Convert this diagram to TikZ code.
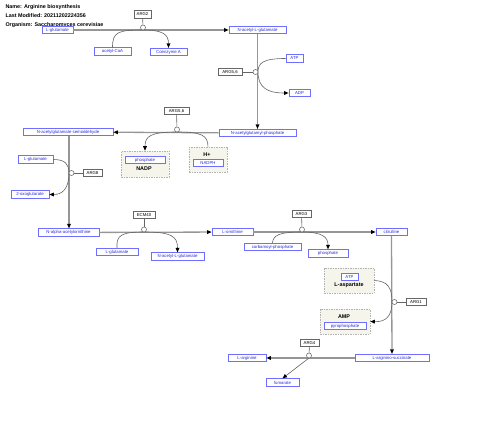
\documentclass[tikz,border=0pt]{standalone}
\usepackage{fontspec}
\setmainfont{Liberation Sans}
\usetikzlibrary{arrows.meta}
\definecolor{metabline}{RGB}{110,110,255}
\definecolor{metabtext}{RGB}{40,40,220}
\definecolor{groupfill}{RGB}{245,245,236}
\definecolor{mainline}{RGB}{150,150,150}
\definecolor{sideline}{RGB}{100,100,100}
\tikzset{every node/.style = {font = \fontsize{4.3}{5}\selectfont}}
\tikzset{metab/.style = {draw = metabline, fill = white, text = metabtext, line width = 0.8pt, inner sep = 0, minimum height = 7.5pt}}
\tikzset{gene/.style = {draw = gray!80!black, fill = white, line width = 0.6pt, inner sep = 0, minimum height = 7.5pt}}
\tikzset{grp/.style = {draw = gray!60, fill = groupfill, dashed, dash pattern = on 1.5pt off 1pt, line width = 0.6pt, inner sep = 0}}
\tikzset{anch/.style = {draw = sideline, fill = white, circle, inner sep = 0, minimum size = 5pt, line width = 0.5pt}}
\tikzset{main/.style = {draw = mainline, line width = 1.3pt}}
\tikzset{side/.style = {draw = sideline, line width = 0.6pt}}
\tikzset{tip/.style = {-{Triangle[length = 4.5pt, width = 4pt, color = black, line width = 0pt]}}}
\tikzset{bold/.style = {font = \fontsize{5.4}{6}\selectfont\bfseries}}

\begin{document}
\begin{tikzpicture}[x = 1pt, y = -1pt]
    \useasboundingbox (0,0) rectangle (480,428);
    \node [bold, anchor = west] (title) at (2,7) {Name: Arginine biosynthesis};
    \node [bold, anchor = west] (modified) at (2,16) {Last Modified: 20211202224356};
    \node [bold, anchor = west] (organism) at (2,25) {Organism: Saccharomyces cerevisiae};

    \node [grp, minimum width = 48pt, minimum height = 26pt] (gnadp) at (145,164) {};
    \node [grp, minimum width = 38pt, minimum height = 25pt] (ghplus) at (208,159.5) {};
    \node [grp, minimum width = 50pt, minimum height = 25pt] (gasp) at (349,280.5) {};
    \node [grp, minimum width = 50pt, minimum height = 25pt] (gamp) at (345,321.5) {};
    \node [bold] (lnadp) at (144,169) {NADP};
    \node [bold] (lhplus) at (207,155) {H+};
    \node [bold] (lasp) at (349,285.5) {L-aspartate};
    \node [bold] (lamp) at (344,317) {AMP};

    \node [metab, minimum width = 31pt] (glu1) at (57.5,30) {L-glutamate};
    \node [metab, minimum width = 57pt] (nag1) at (257.5,30) {N-acetyl-L-glutamate};
    \node [metab, minimum width = 37pt] (accoa) at (112.5,51.5) {acetyl-CoA};
    \node [metab, minimum width = 37pt] (coa) at (168.5,52) {Coenzyme A};
    \node [metab, minimum width = 17pt] (atp1) at (294.5,58.5) {ATP};
    \node [metab, minimum width = 21pt] (adp) at (299.5,93) {ADP};
    \node [metab, minimum width = 77pt] (nagp) at (257.5,133) {N-acetylglutamyl-phosphate};
    \node [metab, minimum width = 90pt] (nags) at (68,132) {N-acetylglutamate semialdehyde};
    \node [metab, minimum width = 40pt] (phos1) at (145,160) {phosphate};
    \node [metab, minimum width = 30pt] (nadph) at (208,163) {NADPH};
    \node [metab, minimum width = 35pt] (glu2) at (35.5,159.5) {L-glutamate};
    \node [metab, minimum width = 38pt] (oxo) at (30,194.5) {2-oxoglutarate};
    \node [metab, minimum width = 61pt] (naorn) at (68.5,232.5) {N-alpha-acetylornithine};
    \node [metab, minimum width = 41pt] (orn) at (232.5,232) {L-ornithine};
    \node [metab, minimum width = 42pt] (glu3) at (117,252) {L-glutamate};
    \node [metab, minimum width = 53pt] (nag2) at (177.5,256.5) {N-acetyl-L-glutamate};
    \node [metab, minimum width = 57pt] (cp) at (272.5,247) {carbamoyl-phosphate};
    \node [metab, minimum width = 40pt] (phos2) at (328,253.5) {phosphate};
    \node [metab, minimum width = 31pt] (cit) at (391.5,232) {citrulline};
    \node [metab, minimum width = 17pt] (atp2) at (349.5,277) {ATP};
    \node [metab, minimum width = 42pt] (ppi) at (345,326) {pyrophosphate};
    \node [metab, minimum width = 74pt] (ags) at (392,358) {L-arginino-succinate};
    \node [metab, minimum width = 38pt] (arg) at (247,358) {L-arginine};
    \node [metab, minimum width = 33pt] (fum) at (282.5,382.5) {fumarate};

    \node [gene, minimum width = 17pt] (arg2) at (142.5,14.5) {ARG2};
    \node [gene, minimum width = 24pt] (arg56a) at (230,72) {ARG5,6};
    \node [gene, minimum width = 25pt] (arg56b) at (176.5,111) {ARG5,6};
    \node [gene, minimum width = 19pt] (arg8) at (92.5,173) {ARG8};
    \node [gene, minimum width = 22pt] (ecm40) at (144,215) {ECM40};
    \node [gene, minimum width = 19pt] (arg3) at (301.5,214) {ARG3};
    \node [gene, minimum width = 20pt] (arg1) at (416,302) {ARG1};
    \node [gene, minimum width = 19pt] (arg4) at (309.5,343) {ARG4};

    \coordinate (p1) at (143,30);
    \coordinate (p2) at (258,72);
    \coordinate (p3) at (177,132);
    \coordinate (p4) at (69,173);
    \coordinate (p5) at (144,232);
    \coordinate (p6) at (302,232);
    \coordinate (p7) at (392,302);
    \coordinate (p8) at (309,358);

    \draw [main, tip] (glu1) -- (nag1);
    \draw [main, tip] (nag1) -- (nagp);
    \draw [main, tip] (nagp) -- (nags);
    \draw [main, tip] (nags.south -| p4) -- (naorn.north -| p4);
    \draw [main, tip] (naorn) -- (orn);
    \draw [main, tip] (orn) -- (cit);
    \draw [main, tip] (cit) -- (ags);
    \draw [main, tip] (ags) -- (arg);

    \draw [side] (accoa.north) .. controls (112.5,32) and (118,30) .. (p1);
    \draw [side, tip] (p1) .. controls (162,30) and (168.5,34) .. (coa.north);
    \draw [side] (atp1.west) .. controls (263,58.5) and (258,63) .. (p2);
    \draw [side, tip] (p2) .. controls (258,88) and (268,93) .. (adp.west);
    \draw [side, tip] (p3) .. controls (151,132) and (145,136) .. (gnadp.north);
    \draw [side] (ghplus.north) .. controls (208,135) and (201,132) .. (p3);
    \draw [side] (glu2.east) .. controls (65,159.5) and (69,164) .. (p4);
    \draw [side, tip] (p4) .. controls (69,189) and (62,194.5) .. (oxo.east);
    \draw [side] (glu3.north) .. controls (116,235) and (122,232) .. (p5);
    \draw [side, tip] (p5) .. controls (171,232) and (177.5,236) .. (nag2.north);
    \draw [side] (cp.north) .. controls (273,235) and (280,232) .. (p6);
    \draw [side, tip] (p6) .. controls (322,232) and (328,237) .. (phos2.north);
    \draw [side] (gasp.east) .. controls (388,281) and (392,288) .. (p7);
    \draw [side, tip] (p7) .. controls (392,317) and (385,322) .. (gamp.east);
    \draw [side, tip] (p8) -- (fum.north);

    \node [anch] (c1) at (143,27.5) {};
    \node [anch] (c2) at (255.5,72) {};
    \node [anch] (c3) at (177,129.5) {};
    \node [anch] (c4) at (71.5,173) {};
    \node [anch] (c5) at (144,229.5) {};
    \node [anch] (c6) at (302,229.5) {};
    \node [anch] (c7) at (394.5,302) {};
    \node [anch] (c8) at (309,355.5) {};

    \draw [side] (arg2) -- (c1);
    \draw [side] (arg56a) -- (c2);
    \draw [side] (arg56b) -- (c3);
    \draw [side] (arg8) -- (c4);
    \draw [side] (ecm40) -- (c5);
    \draw [side] (arg3) -- (c6);
    \draw [side] (arg1) -- (c7);
    \draw [side] (arg4) -- (c8);
\end{tikzpicture}
\end{document}
